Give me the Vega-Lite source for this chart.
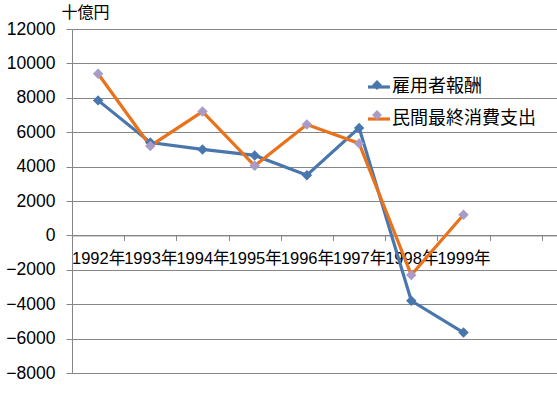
{
  "$schema": "https://vega.github.io/schema/vega-lite/v6.json",
  "width": 485,
  "height": 344,
  "autosize": {"type": "none"},
  "padding": {"left": 72, "top": 29, "right": 0, "bottom": 24},
  "background": "white",
  "config": {"view": {"stroke": null}},
  "data": {
    "values": [
      {"year": "1992年", "series": "雇用者報酬", "value": 7850},
      {"year": "1993年", "series": "雇用者報酬", "value": 5400},
      {"year": "1994年", "series": "雇用者報酬", "value": 5000},
      {"year": "1995年", "series": "雇用者報酬", "value": 4650},
      {"year": "1996年", "series": "雇用者報酬", "value": 3500},
      {"year": "1997年", "series": "雇用者報酬", "value": 6250},
      {"year": "1998年", "series": "雇用者報酬", "value": -3800},
      {"year": "1999年", "series": "雇用者報酬", "value": -5650},
      {"year": "1992年", "series": "民間最終消費支出", "value": 9400},
      {"year": "1993年", "series": "民間最終消費支出", "value": 5200},
      {"year": "1994年", "series": "民間最終消費支出", "value": 7200},
      {"year": "1995年", "series": "民間最終消費支出", "value": 4050},
      {"year": "1996年", "series": "民間最終消費支出", "value": 6450},
      {"year": "1997年", "series": "民間最終消費支出", "value": 5350},
      {"year": "1998年", "series": "民間最終消費支出", "value": -2300},
      {"year": "1999年", "series": "民間最終消費支出", "value": 1200}
    ]
  },
  "encoding": {
    "x": {
      "field": "year",
      "type": "ordinal",
      "scale": {
        "type": "band",
        "domain": ["1992年", "1993年", "1994年", "1995年", "1996年", "1997年", "1998年", "1999年", "2000年"],
        "paddingInner": 0,
        "paddingOuter": 0.1456,
        "align": 0
      },
      "axis": {
        "title": null,
        "orient": "bottom",
        "offset": -137.6,
        "labelAngle": 0,
        "labelOverlap": false,
        "labelExpr": "datum.value == '2000年' ? '' : datum.value",
        "labelFont": "Liberation Sans, Noto Sans CJK JP",
        "labelFontSize": 16.5,
        "labelColor": "#000000",
        "labelPadding": 10,
        "labelBaseline": "top",
        "tickBand": "extent",
        "tickSize": 5,
        "tickColor": "#868686",
        "domainColor": "#868686",
        "grid": false
      }
    },
    "y": {
      "field": "value",
      "type": "quantitative",
      "scale": {"domain": [-8000, 12000], "nice": false, "zero": false},
      "axis": {
        "values": [-8000, -6000, -4000, -2000, 0, 2000, 4000, 6000, 8000, 10000, 12000],
        "format": "d",
        "title": "十億円",
        "titleAngle": 0,
        "titleAlign": "left",
        "titleBaseline": "middle",
        "titleX": -11,
        "titleY": -16.5,
        "titleFont": "Noto Sans CJK JP",
        "titleFontSize": 16,
        "titleFontWeight": "normal",
        "titleColor": "#000000",
        "labelFont": "Liberation Sans",
        "labelFontSize": 17.5,
        "labelColor": "#000000",
        "labelPadding": 11,
        "tickSize": 6,
        "tickColor": "#868686",
        "domainColor": "#868686",
        "gridColor": "#868686",
        "gridOpacity": 1,
        "grid": true
      }
    }
  },
  "layer": [
    {
      "mark": {"type": "line", "strokeWidth": 3.2},
      "encoding": {
        "stroke": {
          "field": "series",
          "type": "nominal",
          "sort": "descending",
          "scale": {"range": ["#4A76AE", "#E8731C"]},
          "legend": {
            "title": null,
            "orient": "none",
            "legendX": 294,
            "legendY": 45,
            "padding": 0,
            "symbolType": "stroke",
            "symbolSize": 484,
            "symbolStrokeWidth": 3.2,
            "labelFont": "Noto Sans CJK JP",
            "labelFontSize": 18,
            "labelColor": "#000000",
            "labelOffset": 0,
            "labelLimit": 300,
            "rowPadding": 10
          }
        }
      }
    },
    {
      "mark": {"type": "point", "shape": "diamond", "filled": true, "size": 110, "opacity": 1, "strokeWidth": 0},
      "encoding": {
        "fill": {
          "field": "series",
          "type": "nominal",
          "scale": {"domain": ["雇用者報酬", "民間最終消費支出"], "range": ["#4A76AE", "#A99BC8"]},
          "legend": {
            "title": null,
            "orient": "none",
            "legendX": 294,
            "legendY": 45,
            "padding": 0,
            "zindex": 2,
            "symbolType": "M0,-0.45L0.45,0L0,0.45L-0.45,0Z",
            "symbolSize": 484,
            "symbolStrokeWidth": 0,
            "symbolOpacity": 1,
            "labelExpr": "''",
            "labelFont": "Noto Sans CJK JP",
            "labelFontSize": 18,
            "labelColor": "#000000",
            "labelOffset": 0,
            "labelLimit": 300,
            "rowPadding": 10
          }
        }
      }
    }
  ]
}
